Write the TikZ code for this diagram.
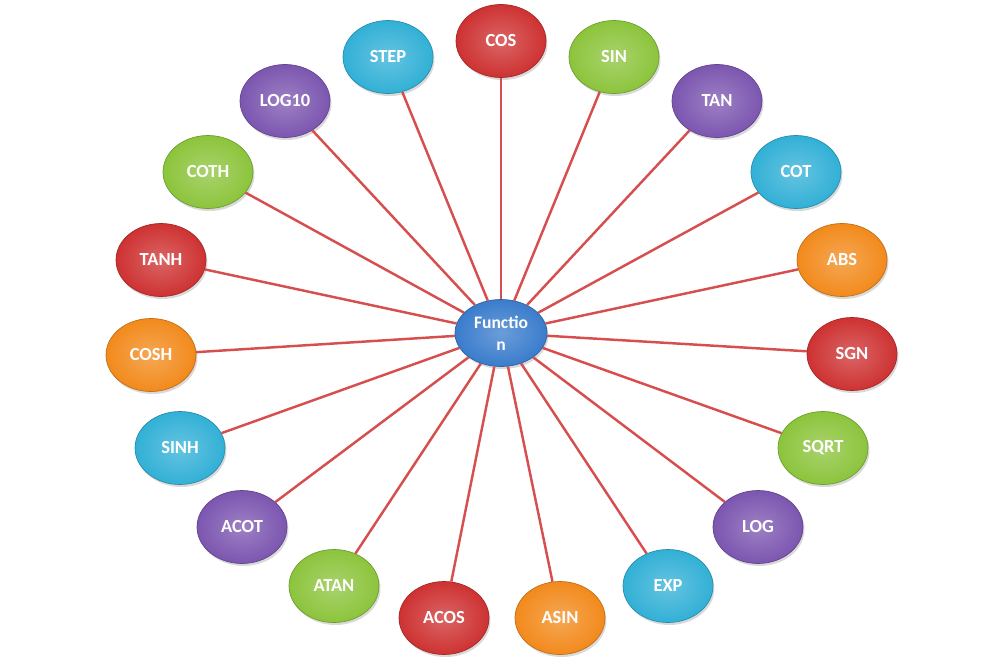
\documentclass[tikz,border=0pt]{standalone}
\usepackage{fontspec}
\setmainfont{Carlito}
\usetikzlibrary{shapes,positioning,shadows}
\definecolor{fnred}{RGB}{206,50,50}
\definecolor{fngreen}{RGB}{140,196,60}
\definecolor{fncyan}{RGB}{50,176,214}
\definecolor{fnpurple}{RGB}{124,86,176}
\definecolor{fnorange}{RGB}{242,138,28}
\definecolor{fnblue}{RGB}{58,124,204}
\definecolor{linkred}{RGB}{214,78,78}

\begin{document}
\begin{tikzpicture}[
    x=0.02cm, y=-0.02cm,
    fn/.style={ellipse, minimum width=1.8cm, minimum height=1.46cm, inner sep=0pt, text=white, font=\fontsize{10.5}{12}\selectfont\bfseries, drop shadow={opacity=0.3, shadow xshift=0.03cm, shadow yshift=-0.05cm}},
    redfn/.style={fn, draw=fnred!80!black, inner color=fnred!75!white, outer color=fnred},
    greenfn/.style={fn, draw=fngreen!80!black, inner color=fngreen!75!white, outer color=fngreen},
    cyanfn/.style={fn, draw=fncyan!80!black, inner color=fncyan!75!white, outer color=fncyan},
    purplefn/.style={fn, draw=fnpurple!80!black, inner color=fnpurple!75!white, outer color=fnpurple},
    orangefn/.style={fn, draw=fnorange!80!black, inner color=fnorange!75!white, outer color=fnorange},
    hub/.style={fn, minimum width=1.84cm, minimum height=1.34cm, align=center, font=\fontsize{10}{12.5}\selectfont\bfseries, draw=fnblue!80!black, inner color=fnblue!75!white, outer color=fnblue},
    link/.style={draw=linkred, line width=1.4pt}
]
\useasboundingbox (0,0) rectangle (1001,666);

% Nodes
\node (function) [hub] at (501,333) {Functio\\n};
\node (cos) [redfn] at (501,41) {COS};
\node (sin) [greenfn] at (614,57) {SIN};
\node (tan) [purplefn] at (717,101) {TAN};
\node (cot) [cyanfn] at (796,172) {COT};
\node (abs) [orangefn] at (842,260) {ABS};
\node (sgn) [redfn] at (852,354) {SGN};
\node (sqrt) [greenfn] at (823,448) {SQRT};
\node (log) [purplefn] at (758,527) {LOG};
\node (exp) [cyanfn] at (668,586) {EXP};
\node (asin) [orangefn] at (560,618) {ASIN};
\node (acos) [redfn] at (444,618) {ACOS};
\node (atan) [greenfn] at (334,586) {ATAN};
\node (acot) [purplefn] at (242,527) {ACOT};
\node (sinh) [cyanfn] at (180,448) {SINH};
\node (cosh) [orangefn] at (151,355) {COSH};
\node (tanh) [redfn] at (161,260) {TANH};
\node (coth) [greenfn] at (208,172) {COTH};
\node (log10) [purplefn] at (285,101) {LOG10};
\node (step) [cyanfn] at (388,57) {STEP};

% Links
\draw [link] (function) -- (cos);
\draw [link] (function) -- (sin);
\draw [link] (function) -- (tan);
\draw [link] (function) -- (cot);
\draw [link] (function) -- (abs);
\draw [link] (function) -- (sgn);
\draw [link] (function) -- (sqrt);
\draw [link] (function) -- (log);
\draw [link] (function) -- (exp);
\draw [link] (function) -- (asin);
\draw [link] (function) -- (acos);
\draw [link] (function) -- (atan);
\draw [link] (function) -- (acot);
\draw [link] (function) -- (sinh);
\draw [link] (function) -- (cosh);
\draw [link] (function) -- (tanh);
\draw [link] (function) -- (coth);
\draw [link] (function) -- (log10);
\draw [link] (function) -- (step);

\end{tikzpicture}
\end{document}
